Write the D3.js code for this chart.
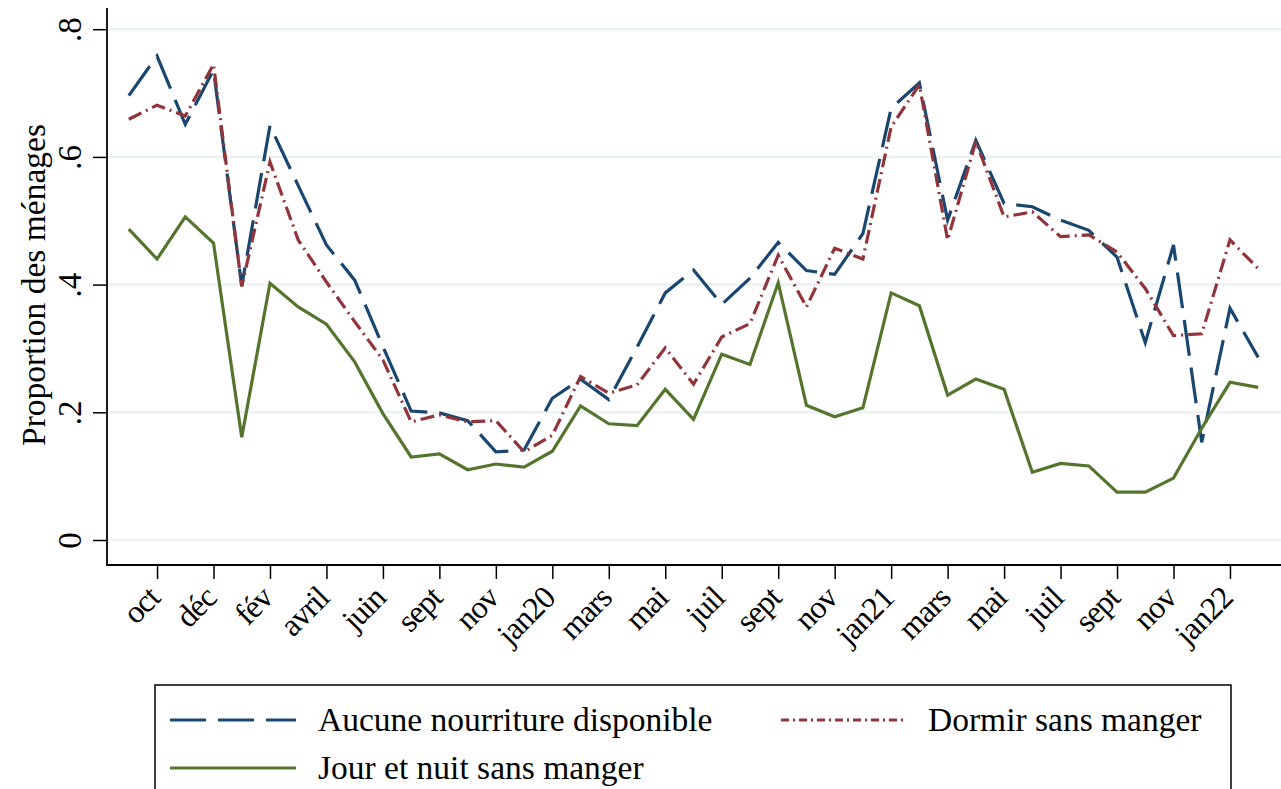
<!DOCTYPE html>
<html>
<head>
<meta charset="utf-8">
<script src="https://cdn.jsdelivr.net/npm/d3@7"></script>
<style>
  body { margin: 0; background: #fff; }
  svg { display: block; }
  svg text { font-family: "Liberation Serif", "Times New Roman", serif; }
</style>
</head>
<body>
<svg width="1281" height="789"></svg>
<script>
// survey rounds (index), ticks every second round
var tickIdx = [1, 3, 5, 7, 9, 11, 13, 15, 17, 19, 21, 23, 25, 27, 29, 31, 33, 35, 37, 39];
var tickLabels = ["oct", "déc", "fév", "avril", "juin", "sept", "nov", "jan20", "mars", "mai",
                  "juil", "sept", "nov", "jan21", "mars", "mai", "juil", "sept", "nov", "jan22"];
var yTicks = [0, 0.2, 0.4, 0.6, 0.8];

var aucune = [0.696, 0.758, 0.651, 0.736, 0.398, 0.649, 0.555, 0.462, 0.407, 0.303,
              0.202, 0.199, 0.187, 0.138, 0.141, 0.222, 0.252, 0.220, 0.302, 0.387,
              0.423, 0.369, 0.410, 0.466, 0.422, 0.416, 0.480, 0.676, 0.716, 0.501,
              0.626, 0.527, 0.522, 0.501, 0.485, 0.443, 0.309, 0.462, 0.153, 0.363,
              0.286];
var dormir = [0.659, 0.681, 0.664, 0.745, 0.397, 0.592, 0.470, 0.404, 0.342, 0.282,
              0.185, 0.196, 0.185, 0.187, 0.138, 0.164, 0.256, 0.230, 0.243, 0.301,
              0.244, 0.318, 0.339, 0.446, 0.365, 0.457, 0.440, 0.647, 0.713, 0.470,
              0.624, 0.506, 0.514, 0.475, 0.478, 0.451, 0.394, 0.320, 0.323, 0.470,
              0.425];
var jourNuit = [0.487, 0.440, 0.506, 0.465, 0.161, 0.402, 0.365, 0.338, 0.279, 0.198,
                0.130, 0.135, 0.110, 0.119, 0.114, 0.139, 0.210, 0.182, 0.179, 0.236,
                0.189, 0.291, 0.275, 0.403, 0.211, 0.193, 0.207, 0.387, 0.367, 0.227,
                0.252, 0.236, 0.106, 0.120, 0.116, 0.075, 0.075, 0.097, 0.175, 0.247,
                0.239];

var series = [
    {name: "Aucune nourriture disponible", values: aucune, color: "#1a476f", dash: "36,12", legDash: "36,12"},
    {name: "Dormir sans manger", values: dormir, color: "#90353b", dash: "14,5,2,5", legDash: "8,4,2,4"},
    {name: "Jour et nuit sans manger", values: jourNuit, color: "#55752f", dash: null, legDash: null}
];

let svg = d3.select("svg");

let x = d3.scaleLinear().domain([0, 40]).range([128.8, 1258.2]);
let y = d3.scaleLinear().domain([0, 0.8]).range([540, 29.2]);

const axisX = 107, axisY = 565;
const serif = "Liberation Serif, Times New Roman, serif";

// grid
svg.append("g").selectAll("line")
    .data(yTicks)
    .enter().append("line")
    .attr("x1", axisX).attr("x2", 1281)
    .attr("y1", d => y(d)).attr("y2", d => y(d))
    .attr("stroke", "#eaf2f3")
    .attr("stroke-width", 2.5);

// y axis
let yAxis = svg.append("g")
    .attr("transform", "translate(" + axisX + ",0)")
    .call(d3.axisLeft(y).tickValues(yTicks).tickSize(14).tickPadding(0)
        .tickFormat(d => d === 0 ? "0" : d3.format(".1f")(d).replace(/^0/, "")));
yAxis.attr("font-family", serif);
yAxis.select(".domain").remove();
yAxis.selectAll(".tick line").attr("stroke", "#000").attr("stroke-width", 1.5);
yAxis.selectAll(".tick text")
    .attr("x", null).attr("dy", null)
    .attr("transform", "translate(-26,0) rotate(-90)")
    .attr("text-anchor", "middle")
    .attr("font-size", 33)
    .attr("fill", "#000");
svg.append("line")
    .attr("x1", axisX).attr("x2", axisX)
    .attr("y1", 8).attr("y2", axisY + 1)
    .attr("stroke", "#000").attr("stroke-width", 1.8);

// x axis
let xAxis = svg.append("g")
    .attr("transform", "translate(0," + axisY + ")")
    .call(d3.axisBottom(x).tickValues(tickIdx).tickSize(14)
        .tickFormat((d, i) => tickLabels[i]));
xAxis.attr("font-family", serif);
xAxis.select(".domain").remove();
xAxis.selectAll(".tick line").attr("stroke", "#000").attr("stroke-width", 1.5);
xAxis.selectAll(".tick text")
    .attr("y", null).attr("dy", null)
    .attr("transform", "translate(4,35) rotate(-45)")
    .attr("text-anchor", "end")
    .attr("font-size", 32)
    .attr("letter-spacing", -1)
    .attr("fill", "#000");
svg.append("line")
    .attr("x1", axisX).attr("x2", 1281)
    .attr("y1", axisY).attr("y2", axisY)
    .attr("stroke", "#000").attr("stroke-width", 1.8);

// y title
svg.append("text")
    .attr("transform", "translate(45,285) rotate(-90)")
    .attr("text-anchor", "middle")
    .attr("font-size", 33.5)
    .text("Proportion des ménages");

// lines
let line = d3.line()
    .x((d, i) => x(i))
    .y(d => y(d));

svg.append("g").selectAll("path")
    .data(series)
    .enter().append("path")
    .attr("d", d => line(d.values))
    .attr("fill", "none")
    .attr("stroke", d => d.color)
    .attr("stroke-width", 3.2)
    .attr("stroke-dasharray", d => d.dash);

// legend
let legend = svg.append("g");
legend.append("rect")
    .attr("x", 155).attr("y", 685)
    .attr("width", 1076).attr("height", 130)
    .attr("fill", "#fff")
    .attr("stroke", "#000")
    .attr("stroke-width", 1.5);

let legPos = [{x: 170, y: 720}, {x: 781, y: 720}, {x: 170, y: 768}];
let textX = [318, 928, 318];

let items = legend.selectAll("g.item")
    .data(series)
    .enter().append("g")
    .attr("class", "item");
items.append("line")
    .attr("x1", (d, i) => legPos[i].x).attr("x2", (d, i) => legPos[i].x + 126)
    .attr("y1", (d, i) => legPos[i].y).attr("y2", (d, i) => legPos[i].y)
    .attr("stroke", d => d.color)
    .attr("stroke-width", 3)
    .attr("stroke-dasharray", d => d.legDash);
items.append("text")
    .attr("x", (d, i) => textX[i])
    .attr("y", (d, i) => legPos[i].y + 11)
    .attr("font-size", 33.5)
    .text(d => d.name);
</script>
</body>
</html>
